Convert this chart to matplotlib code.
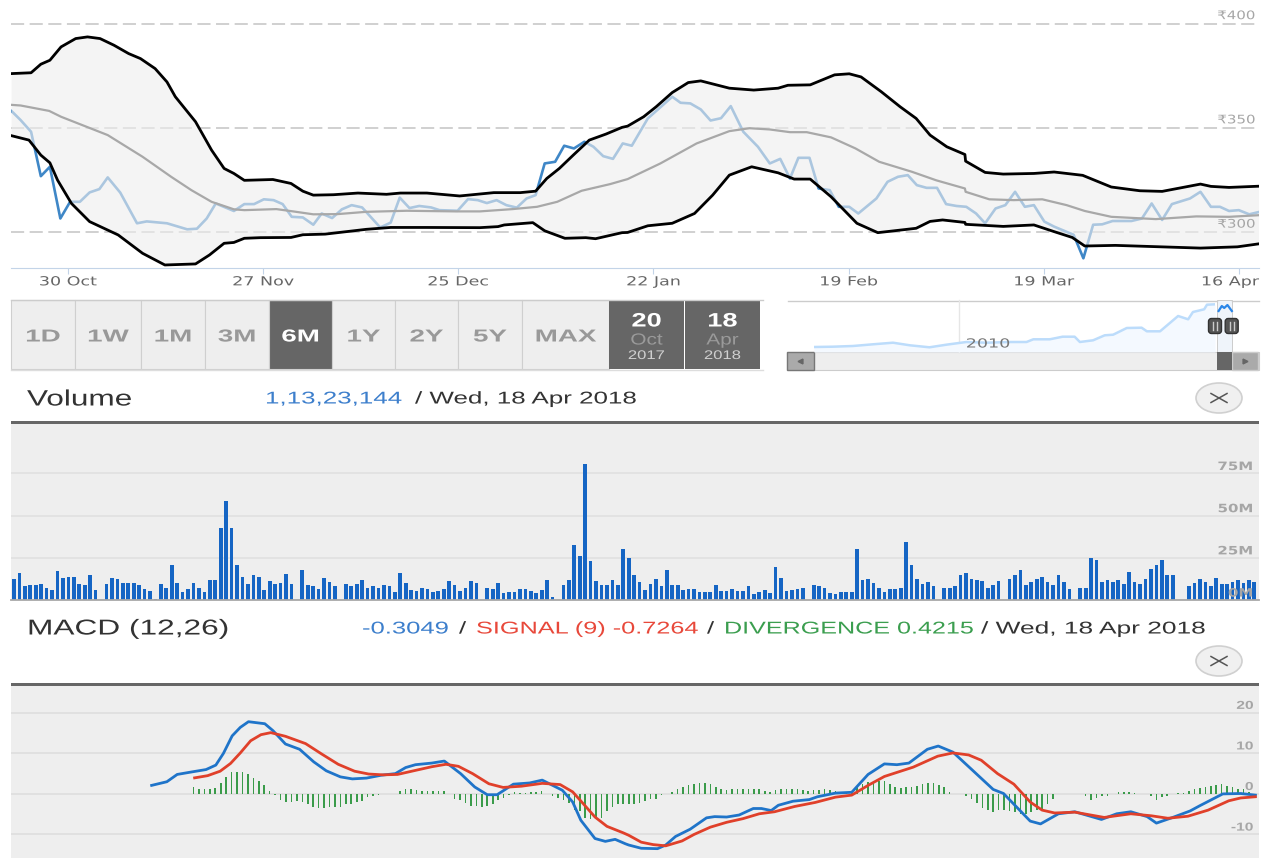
"""Stock chart screen: Bollinger bands, range buttons, volume and MACD panels."""
import matplotlib
matplotlib.use("Agg")
import matplotlib.pyplot as plt
import numpy as np
from matplotlib.patches import Ellipse, FancyBboxPatch, Rectangle
from matplotlib.patheffects import AbstractPathEffect
from matplotlib.transforms import Affine2D, blended_transform_factory

W, H = 1264, 858

# price panel, x in days since 30 Oct 2017
tick_days = [0, 28, 56, 84, 112, 140, 168]
tick_labels = ["30 Oct", "27 Nov", "25 Dec", "22 Jan", "19 Feb", "19 Mar", "16 Apr"]
price_ticks = [300, 350, 400]

upper_days = [-8.1, -5.3, -3.9, -2.6, -1.0, 1.1, 2.8, 4.6, 6.6, 8.7, 10.4, 12.5, 14.2, 15.4,
              18.3, 20.6, 22.4, 23.8, 25.3, 29.4, 32.0, 33.7, 35.2, 38.1, 41.6, 45.7, 47.7,
              51.5, 56.2, 61.1, 64.9, 67.1, 68.7, 70.5, 72.5, 74.8, 77.2, 79.5, 80.3, 82.6,
              84.4, 86.7, 89.0, 90.8, 94.9, 98.4, 101.9, 103.3, 106.5, 110.0, 112.1, 113.8,
              116.7, 119.4, 121.7, 123.7, 126.1, 128.7, 128.8, 131.6, 134.2, 138.6, 141.5,
              145.6, 149.7, 153.8, 157.0, 162.5, 164.0, 166.6, 171.0]
upper_vals = [376.0, 376.4, 380.5, 382.4, 388.8, 392.8, 393.6, 392.8, 389.6, 385.6, 383.2,
              378.4, 372.0, 364.9, 352.9, 339.3, 330.5, 328.1, 324.8, 325.2, 323.3, 319.6,
              317.7, 317.9, 318.7, 318.1, 318.7, 318.7, 317.3, 318.9, 318.9, 319.6, 325.7,
              330.5, 336.9, 344.1, 347.0, 350.2, 350.8, 355.3, 360.1, 366.9, 371.7, 372.5,
              369.0, 368.1, 369.0, 370.4, 370.6, 375.4, 375.9, 374.4, 367.3, 360.1, 354.5,
              346.5, 340.9, 337.2, 334.0, 328.6, 327.8, 328.1, 328.8, 327.2, 321.6, 319.8,
              319.5, 323.0, 321.9, 321.4, 322.0]
lower_days = [-8.1, -5.6, -3.9, -2.6, -1.5, 0.5, 3.1, 7.2, 10.7, 13.9, 18.3, 20.3, 22.4, 23.8,
              25.3, 27.6, 32.0, 33.7, 36.9, 42.8, 46.3, 51.5, 59.1, 61.7, 62.6, 66.7, 68.4,
              71.3, 74.3, 75.7, 79.5, 80.3, 83.2, 86.7, 89.9, 92.5, 94.9, 98.1, 101.9, 104.2,
              106.5, 109.5, 113.2, 116.2, 121.7, 123.7, 125.5, 128.7, 128.8, 134.2, 138.6,
              141.5, 144.1, 145.9, 150.3, 162.5, 167.8, 171.0]
lower_vals = [346.2, 344.1, 336.9, 333.2, 324.9, 313.7, 305.0, 298.6, 289.8, 284.2, 284.7,
              289.0, 294.6, 295.0, 297.0, 297.3, 297.4, 298.7, 299.0, 301.3, 302.2, 302.2,
              302.1, 302.6, 303.4, 304.5, 300.6, 297.0, 297.3, 296.8, 299.7, 299.8, 303.0,
              304.2, 308.9, 317.7, 327.3, 331.3, 328.4, 325.4, 325.4, 316.9, 304.2, 299.7,
              301.8, 305.1, 305.8, 304.6, 303.7, 302.7, 303.4, 300.2, 297.4, 293.3, 293.6,
              292.3, 292.9, 294.4]
middle_days = [-8.1, -6.8, -2.7, -1.0, 5.7, 10.7, 14.8, 17.7, 20.6, 23.8, 25.3, 29.9, 32.3,
               35.2, 38.7, 42.8, 48.6, 55.6, 59.1, 63.8, 67.3, 70.2, 73.7, 77.8, 80.3, 85.0,
               90.2, 94.9, 97.8, 100.7, 103.6, 106.0, 109.5, 113.0, 116.4, 121.1, 124.6,
               128.7, 128.8, 132.2, 135.7, 139.8, 143.3, 145.9, 149.7, 156.1, 161.9, 166.6,
               171.0]
middle_vals = [361.0, 360.7, 358.1, 355.3, 346.5, 336.1, 326.5, 320.1, 314.5, 310.9, 310.5,
               311.0, 309.9, 308.5, 308.6, 309.7, 310.2, 309.9, 309.9, 311.0, 312.1, 314.5,
               319.8, 323.0, 325.4, 332.9, 342.5, 348.4, 349.8, 349.2, 347.9, 347.9, 345.4,
               340.1, 333.7, 328.9, 324.8, 320.9, 319.3, 315.7, 315.3, 315.7, 312.9, 310.1,
               307.3, 306.2, 307.5, 307.3, 308.1]
price_days = [-8.1, -6.8, -5.3, -3.9, -2.6, -1.1, 0.3, 1.7, 3.1, 4.5, 5.7, 7.5, 9.9, 11.3,
              14.2, 17.1, 18.5, 19.9, 21.2, 23.8, 25.3, 26.7, 28.1, 29.5, 30.8, 32.1, 33.7,
              35.2, 36.4, 37.9, 39.3, 40.7, 42.2, 44.8, 46.3, 47.6, 49.0, 50.4, 52.1, 53.3,
              55.9, 57.4, 58.8, 60.1, 61.5, 62.9, 64.4, 65.8, 67.1, 68.4, 69.9, 71.2, 72.6,
              74.1, 75.4, 76.8, 78.2, 79.6, 80.9, 83.2, 86.7, 87.9, 89.3, 90.8, 92.2, 93.7,
              95.1, 96.9, 99.0, 100.7, 102.2, 103.6, 104.8, 106.4, 107.7, 109.3, 110.6, 112.1,
              113.4, 116.0, 117.6, 119.1, 120.5, 121.8, 123.2, 124.7, 126.0, 127.5, 128.9,
              130.3, 131.6, 133.1, 134.5, 135.9, 137.3, 138.6, 140.1, 141.5, 144.3, 145.7,
              147.1, 148.4, 149.9, 152.6, 154.1, 155.5, 157.0, 158.4, 161.0, 162.5, 164.0,
              165.3, 166.6, 168.0, 169.5, 171.0]
price_vals = [358.0, 353.7, 348.1, 326.8, 331.3, 306.5, 314.5, 314.5, 319.0, 320.6, 326.2,
              318.9, 304.2, 305.1, 304.2, 301.3, 301.6, 306.5, 313.7, 310.1, 313.4, 313.4,
              315.7, 315.3, 313.4, 307.3, 307.0, 303.5, 308.9, 306.7, 310.9, 312.9, 311.8,
              302.2, 304.5, 316.5, 311.5, 312.5, 311.8, 310.5, 310.2, 315.8, 315.3, 313.9,
              315.3, 312.9, 311.7, 316.1, 317.7, 332.9, 333.7, 341.4, 340.1, 343.3, 340.9,
              336.4, 335.1, 342.5, 341.4, 354.5, 364.9, 362.0, 361.7, 358.8, 353.5, 354.6,
              360.4, 348.1, 340.9, 332.9, 335.1, 325.7, 335.6, 335.6, 320.9, 320.1, 312.1,
              312.1, 308.9, 316.1, 324.1, 326.5, 327.3, 322.5, 321.2, 321.2, 313.4, 312.5,
              312.1, 308.9, 304.2, 311.3, 312.9, 319.3, 312.1, 312.9, 305.0, 302.6, 298.7,
              287.4, 303.5, 303.7, 305.3, 305.3, 306.5, 313.7, 305.8, 313.4, 316.1, 319.3,
              312.1, 312.1, 310.1, 310.5, 308.5, 309.7]

# range buttons
range_labels = ["1D", "1W", "1M", "3M", "6M", "1Y", "2Y", "5Y", "MAX"]
range_edges = [11, 75, 141, 205, 269, 332, 395, 458, 522, 609]
active_range = "6M"

# navigator, x as a fraction of the full history, y in pixels of the small plot
nav_x = [0, .047, .097, .147, .197, .239, .288, .33, .38, .43, .488, .53, .547, .588, .62, .65,
         .663, .696, .725, .746, .78, .817, .83, .863, .908, .933, .945, .973, .98, 1]
nav_y = [5, 5.3, 6, 7.7, 9.3, 6.7, 4.7, 7.3, 10, 9.3, 10, 10, 12.7, 12.7, 15.3, 15.3, 10, 11.7,
         16.7, 17.3, 24, 24.3, 20.7, 20.7, 36, 32.7, 40, 42.7, 47.3, 47.7]
nav_sel_x = [1.009, 1.017, 1.023, 1.031, 1.042]
nav_sel_y = [41, 46, 44, 47, 41]

# volume in millions per session, 0 where the feed has no bar
volume = [12.6, 15.7, 8.1, 8.7, 8.7, 9.3, 7.3, 5.9, 17.1, 13.2, 13.8, 13.8, 9.3, 8.7, 14.6, 6.1,
          0, 9.3, 13.2, 12.6, 10, 10, 10, 8.7, 6.7, 5.3, 0.8, 9.3, 7.3, 20.5, 10, 4.7, 6.7, 10,
          7.3, 4.7, 11.8, 11.8, 42.5, 58.7, 42.5, 21, 13.8, 9.3, 14.6, 13.8, 6.1, 11.2, 9.3, 10,
          15.2, 9.3, 0, 17.7, 8.7, 8.1, 6.7, 13.2, 10.6, 8.1, 0, 9.3, 8.1, 9.3, 11.8, 7.3, 8.1,
          7.3, 8.7, 8.1, 4.7, 15.7, 10, 6.1, 5.3,
          7.3, 6.7, 4.7, 5.3, 6.7, 11.2, 8.7, 5.3, 7.3, 11.2, 10, 0, 7.3, 6.7, 10, 4.1, 4.7, 4.7,
          6.7, 6.7, 5.3, 4.1, 6.1, 11.8, 1.6, 0, 8.7, 11.8, 32.7, 26.2, 80.7, 23, 11.2, 8.7, 8.7,
          11.8, 8.7, 30.1, 24.8, 14.6, 10.6, 6.1, 9.3, 12.6, 8.1, 17.7, 8.7, 8.7, 6.1, 6.7, 6.7,
          4.7, 4.7, 4.7, 8.7, 5.3, 5.3, 6.7, 5.3, 5.3, 8.1, 3.3, 4.7, 6.1, 4.1, 19.7, 13.2, 5.3,
          6.1, 6.7, 7.3, 0, 8.7, 8.1, 7.3, 4.1, 3.3,
          4.7, 4.7, 4.7, 30.1, 11.8, 12.6, 10, 7.3, 4.7, 6.7, 6.7, 7.3, 34.6, 21, 12.6, 9.3, 10.6,
          8.1, 0, 7.3, 7.3, 8.1, 14.6, 15.7, 12.6, 11.8, 11.2, 7.3, 8.7, 11.2, 0, 12.6, 14.6,
          17.7, 8.7, 10.6, 12.6, 13.8, 10.6, 8.7, 14.6, 10.6, 6.7, 0, 7.3, 7.3, 24.8, 23.6, 10.6,
          11.8, 10.6, 11.8, 9.3, 16.5, 10.6, 9.3, 12.6, 18.5, 21, 23.6, 14.6, 14.6, 0, 0, 8.1,
          10, 12.6, 10.6, 8.1, 13.2, 9.3, 9.3, 10.6, 11.8, 10, 11.8, 10.6]
volume_ticks = [0, 25, 50, 75]

# MACD, x in the same session slots as the volume bars
macd_slots = [25.3, 28.1, 30.0, 32.6, 35.3, 37.1, 38.5, 40.1, 41.6, 43.1, 46.1, 47.6, 49.9, 52.5,
              55.1, 57.4, 60.0, 62.2, 64.8, 67.5, 70.1, 72.0, 73.8, 76.8, 79.1, 82.1, 84.7, 87.0,
              88.8, 91.8, 94.8, 97.1, 100.8, 102.7, 104.2, 106.8, 108.7, 110.5, 112.4, 113.0,
              115.3, 118.3, 119.8, 121.6, 124.3, 127.3, 128.8, 131.0, 133.3, 135.9, 137.4, 139.2,
              140.5, 143.2, 146.2, 147.7, 151.0, 154.0, 157.0, 160.0, 162.3, 164.5, 167.9, 169.9,
              172.6, 175.5, 180.0, 181.9, 186.8, 188.7, 192.0, 195.0, 199.9, 202.7, 205.3, 208.3,
              210.0, 212.8, 216.2, 218.0, 222.2, 225.5, 228.2]
macd_vals = [2.1, 3.0, 4.8, 5.4, 6.0, 7.1, 10.0, 14.3, 16.4, 17.8, 17.3, 15.6, 12.3, 11.0, 7.9,
             5.7, 4.2, 3.7, 3.9, 4.6, 5.0, 6.5, 7.2, 7.6, 8.1, 5.0, 1.7, -0.2, -0.2, 2.4, 2.7,
             3.4, 0.9, -2.0, -6.5, -11.0, -11.7, -11.2, -12.3, -12.6, -13.4, -13.5, -12.6, -10.5,
             -8.7, -5.9, -5.6, -5.7, -5.2, -3.6, -3.6, -4.1, -2.8, -1.8, -1.4, -0.7, 0.2, 0.4,
             4.8, 7.4, 7.2, 7.6, 11.0, 11.8, 10.3, 6.7, 1.1, 0.1, -6.7, -7.4, -4.9, -4.4, -6.3,
             -4.9, -4.4, -5.6, -7.2, -5.9, -4.2, -2.9, 0.0, 0.1, -0.3]
signal_slots = [33.2, 35.6, 37.9, 39.8, 41.6, 43.5, 45.4, 47.2, 49.9, 53.6, 56.6, 59.6, 62.6, 65.2,
                67.8, 70.5, 73.8, 76.8, 79.4, 81.7, 84.3, 87.3, 89.9, 93.3, 97.1, 100.4, 102.7,
                104.5, 106.8, 109.0, 112.0, 113.0, 115.3, 117.5, 119.8, 122.8, 125.0, 128.0,
                131.0, 134.0, 137.0, 139.8, 143.5, 147.3, 151.0, 154.0, 157.0, 160.0, 165.3,
                169.8, 172.6, 175.5, 177.8, 180.8, 183.8, 186.8, 189.0, 191.3, 195.0, 200.4,
                205.3, 209.1, 212.1, 215.8, 219.5, 223.3, 225.5, 228.2]
signal_vals = [3.95, 4.5, 5.6, 7.5, 10.1, 13.1, 14.6, 15.1, 14.2, 12.4, 9.8, 7.3, 5.6, 4.9, 4.7,
               4.8, 5.8, 6.7, 7.3, 6.8, 5.0, 2.5, 1.6, 1.9, 2.6, 2.3, 0.5, -2.2, -5.7, -8.0, -9.6,
               -10.2, -11.9, -12.5, -12.8, -11.6, -10.0, -8.2, -7.0, -6.1, -4.9, -4.4, -3.1, -2.1,
               -0.8, -0.3, 2.1, 4.3, 6.6, 9.3, 10.1, 9.6, 8.3, 5.0, 2.4, -2.0, -4.0, -4.7, -4.5,
               -5.8, -4.9, -5.4, -6.0, -5.5, -4.0, -1.7, -1.0, -0.7]
divergence_first_slot = 33
divergence = [1.6, 1.3, 1.1, 1.1, 1.4, 2.7, 4.2, 5.4, 5.5, 5.5, 4.9, 3.8, 3.1, 2.1, 0.8, -0.2, -1.5,
              -2.1, -2.1, -1.7, -2.0, -2.6, -3.2, -3.4, -3.4, -3.3, -3.2, -3.2, -2.5, -2.5, -2.0,
              -1.7, -0.8, -0.5, -0.3, 0, -0.1, 0.1, 0.6, 1.1, 1.1, 0.9, 0.8, 0.8, 0.8, 0.8, 0.8, 0,
              -1.2, -1.4, -2.2, -3.0, -3.1, -3.2, -3.1, -2.6, -1.6, -1.0, -0.2, 0.5, 0.2, 0.2, 0.4,
              0.5, 0.8, 0, -0.5, -0.9, -1.6, -2.2, -3.9, -4.3, -6.0, -6.1, -5.8, -6.0, -4.3, -3.2,
              -2.6, -2.6, -2.6,
              -2.6, -2.2, -1.7, -1.3, -1.2, -0.3, 0, 0.5, 1.2, 1.6, 2.2, 2.5, 2.7, 2.7, 2.4, 1.7,
              1.3, 0.9, 1.1, 1.1, 1.1, 1.3, 1.3, 1.1, 0.7, 0.4, 1, 1.1, 1.3, 1.2, 1.1, 0.9, 0.8, 1,
              1, 1.1, 0.9, 0.7, 0.4, 0.5, 0.7, 1.7, 2.4, 3, 3.3, 3.2, 3.1, 2.5, 1.6, 1.4, 1.6, 1.7,
              2, 2.5, 2.8, 2.6, 2.3, 1.6, 0.5, 0, 0, -0.4, -1.3, -2.2, -3.4, -4, -4.4, -3.9, -4,
              -4.3, -4.4, -4.9, -5, -4.5, -4, -3.7, -2.6, -1.2, 0, 0.1, 0.1, 0.1, 0, -0.4, -1.4,
              -0.9, -0.6, -0.4, 0, 0.5, 0.5, 0.5, 0.2, 0, 0, -0.4, -1.5, -0.7, -0.4, -0.1, 0.2, 0.3,
              0.7, 1.3, 1.5, 1.6, 2, 2.1, 2.5, 2, 1.7, 1.2, 1.2, 0.5, 0.1]
macd_ticks = [-10, 0, 10, 20]

SLOT_PX = 5.44
GRAY_TEXT = "#a6a6a6"
BLUE_TEXT = "#3d7fcc"
RED_TEXT = "#e8483a"
GREEN_TEXT = "#3b9e4f"
DARK_TEXT = "#333333"


class Wide(AbstractPathEffect):
    """The reference is stretched sideways, so stretch the glyphs about an anchor."""

    def __init__(self, anchor, sx, dx=0):
        super().__init__()
        self.anchor, self.sx, self.dx = anchor, sx, dx

    def draw_path(self, renderer, gc, tpath, affine, rgbFace=None):
        stretch = (Affine2D().translate(-self.anchor, 0).scale(self.sx, 1)
                   .translate(self.anchor + self.dx, 0))
        renderer.draw_path(gc, tpath, affine + stretch, rgbFace)


def rect(x0, y0, x1, y1):
    return [x0 / W, 1 - y1 / H, (x1 - x0) / W, (y1 - y0) / H]


fig = plt.figure(figsize=(W / 100, H / 100), dpi=100, facecolor="white")

# price panel
ax = fig.add_axes(rect(11, 0, 1259, 268))
ax.set_xlim(-8.18, 170.9)
ax.set_ylim(282.75, 411.3)
for s in ("top", "left", "right"):
    ax.spines[s].set_visible(False)
ax.spines["bottom"].set_color("#c3d4e8")
ax.set_yticks(price_ticks)
ax.tick_params(axis="y", length=0, labelleft=False)
ax.grid(axis="y", color="#c4c4c4", lw=1.1, dashes=(8.6, 3.6), zorder=1)
ax.set_axisbelow(True)
ax.plot(price_days, price_vals, color="#3f87c7", lw=1.9, zorder=2)
ax.fill(upper_days + lower_days[::-1], upper_vals + lower_vals[::-1],
        color="#eeeeee", alpha=0.62, lw=0, zorder=3)
ax.plot(middle_days, middle_vals, color="#a8a8a8", lw=1.6, zorder=4)
ax.plot(upper_days, upper_vals, color="black", lw=2.0, zorder=5)
ax.plot(lower_days, lower_vals, color="black", lw=2.0, zorder=5)
ax.set_xticks(tick_days)
ax.set_xticklabels(tick_labels, fontsize=9, color="#666666")
ax.tick_params(axis="x", length=4.3, color="#c3d4e8", pad=1)
for tick, lab in zip(tick_days, ax.get_xticklabels()):
    # the last label is pushed left so it stays inside the plot
    shift = -9 if tick == tick_days[-1] else 0
    lab.set_path_effects([Wide(ax.transData.transform((tick, 300))[0], 1.4, shift)])
tr = blended_transform_factory(ax.transAxes, ax.transData)
for v in price_ticks:
    ax.text(0.9968, v + 3.8, f"₹{v}", transform=tr, ha="right", va="center", fontsize=8.5,
            color=GRAY_TEXT, path_effects=[Wide(1255, 1.27)], zorder=6)

# volume panel
ax = fig.add_axes(rect(11, 424, 1259, 600), facecolor="#eeeeee")
ax.set_xlim(-3 / SLOT_PX, 1245 / SLOT_PX)
ax.set_ylim(0, 176 / 1.688)
for s in ("top", "left", "right"):
    ax.spines[s].set_visible(False)
ax.spines["bottom"].set_color("#a8a8a8")
ax.spines["bottom"].set_linewidth(1.3)
ax.set_xticks([])
ax.set_yticks(volume_ticks)
ax.tick_params(axis="y", length=0, labelleft=False)
ax.grid(axis="y", color="#dfdfdf", lw=1.1)
ax.set_axisbelow(True)
ax.bar(np.arange(len(volume)), volume, width=0.68, color="#1565c4", lw=0)
tr = blended_transform_factory(ax.transAxes, ax.transData)
for v in volume_ticks:
    ax.text(0.9952, v + 4.1, f"{v}M", transform=tr, ha="right", va="center", fontsize=8.3,
            color=GRAY_TEXT, fontweight="bold", path_effects=[Wide(1253, 1.3)], zorder=6)

# MACD panel
ax = fig.add_axes(rect(11, 686, 1259, 858), facecolor="#eeeeee")
ax.set_xlim(-3 / SLOT_PX, 1245 / SLOT_PX)
ax.set_ylim(-15.8, 26.6)
for s in ax.spines.values():
    s.set_visible(False)
ax.set_xticks([])
ax.set_yticks(macd_ticks)
ax.tick_params(axis="y", length=0, labelleft=False)
ax.grid(axis="y", color="#dcdcdc", lw=1.1)
ax.set_axisbelow(True)
ax.bar(divergence_first_slot + np.arange(len(divergence)), divergence, width=0.3,
       color="#3a9b4a", lw=0)
ax.plot(macd_slots, macd_vals, color="#1f74c9", lw=2.0)
ax.plot(signal_slots, signal_vals, color="#e0402a", lw=2.0)
tr = blended_transform_factory(ax.transAxes, ax.transData)
for v in macd_ticks:
    ax.text(0.9955, v + 1.7, str(v), transform=tr, ha="right", va="center", fontsize=8.3,
            color=GRAY_TEXT, fontweight="bold", family="Liberation Sans",
            path_effects=[Wide(1252.5, 1.35)], zorder=6)

# page furniture, drawn in pixel coordinates over everything
ui = fig.add_axes([0, 0, 1, 1], zorder=10)
ui.set_xlim(0, W)
ui.set_ylim(H, 0)
ui.axis("off")


def label(x, y, s, color=DARK_TEXT, size=12.3, sx=1.5, ha="left", weight="normal",
          family="Liberation Sans"):
    ui.text(x, y + 2, s, color=color, fontsize=size, ha=ha, va="center", fontweight=weight,
            family=family, path_effects=[Wide(x, sx)])


def box(x0, y0, x1, y1, face, edge="none", lw=1.0):
    ui.add_patch(Rectangle((x0, y0), x1 - x0, y1 - y0, facecolor=face, edgecolor=edge, lw=lw))


# range buttons
ui.plot([11, 763], [299.5, 299.5], color="#cccccc", lw=1)
ui.plot([11, 763], [370, 370], color="#dddddd", lw=1)
for name, x0, x1 in zip(range_labels, range_edges[:-1], range_edges[1:]):
    on = name == active_range
    box(x0, 300, x1, 369, "#666666" if on else "#eeeeee", "#cfcfcf", 0.8)
    label((x0 + x1) / 2, 335, name, "white" if on else "#999999", 12.5, 1.6, "center", "bold")
for x0, x1, day, month, year in [(609, 684, "20", "Oct", "2017"), (685, 760, "18", "Apr", "2018")]:
    box(x0, 300, x1, 369, "#666666")
    mid = (x0 + x1) / 2
    label(mid, 320, day, "white", 14, 1.4, "center", "bold")
    label(mid, 338, month, "#9a9a9a", 11.5, 1.3, "center")
    label(mid, 354, year, "#d0d0d0", 9, 1.33, "center")

# navigator frame and scrollbar
ui.plot([788, 1217], [300.5, 300.5], color="#cccccc", lw=1)
ui.plot([1232, 1259], [300.5, 300.5], color="#cccccc", lw=1)
box(1216.7, 300, 1231.7, 352, "#eff4fa", "#cccccc", 0.7)
ui.plot([959, 959], [300, 352], color="#e6e6e6", lw=1)

nav = fig.add_axes(rect(814, 300, 1215, 352), zorder=11)
nav.set_xlim(0, 1)
nav.set_ylim(0, 52)
nav.axis("off")
nav.fill_between(nav_x, nav_y, color="#f4f9ff", lw=0)
nav.plot(nav_x, nav_y, color="#bcdcfb", lw=1.8)
nav.plot(nav_sel_x, nav_sel_y, color="#2a86e8", lw=1.6, clip_on=False)

ui2 = fig.add_axes([0, 0, 1, 1], zorder=12, sharex=ui, sharey=ui)
ui2.axis("off")
ui2.text(988, 344, "2010", color="#777777", fontsize=9, ha="center", va="center",
         path_effects=[Wide(988, 1.4)])
for xc in (1215, 1231.7):
    ui2.add_patch(FancyBboxPatch((xc - 5, 320), 10, 12, boxstyle="round,pad=1.5,rounding_size=3",
                                 facecolor="#555555", edgecolor="#333333", lw=1))
    ui2.plot([xc - 1.8, xc - 1.8], [322, 330], color="#cccccc", lw=1)
    ui2.plot([xc + 1.8, xc + 1.8], [322, 330], color="#cccccc", lw=1)
box(787, 352, 1259, 370, "#eeeeee", "#cccccc", 0.8)
box(787, 352, 814, 370, "#aaaaaa", "#777777", 1)
box(1232, 352, 1258, 370, "#aaaaaa", "#cccccc", 1)
box(1217, 352, 1232, 370, "#666666")
ui.plot([800], [361], marker="<", ms=3.5, color="#666666")
ui.plot([1245], [361], marker=">", ms=3.5, color="#666666")

# section headers
box(11, 421, 1259, 424, "#666666")
label(27, 398, "Volume", size=16, sx=1.42)
label(265, 397, "1,13,23,144", BLUE_TEXT, sx=1.52)
label(415, 397, "/ Wed, 18 Apr 2018", sx=1.52)
box(11, 683, 1259, 686, "#666666")
label(27, 627, "MACD (12,26)", size=15.5, sx=1.47)
label(362, 627, "-0.3049", BLUE_TEXT)
label(459, 627, "/", DARK_TEXT)
label(476, 627, "SIGNAL (9) -0.7264", RED_TEXT, sx=1.48)
label(707, 627, "/", DARK_TEXT)
label(724, 627, "DIVERGENCE 0.4215", GREEN_TEXT, sx=1.47)
label(981, 627, "/ Wed, 18 Apr 2018", sx=1.54)

# close buttons
for cy in (398, 661):
    ui.add_patch(Ellipse((1219, cy), 46, 30, facecolor="#f0f0f0", edgecolor="#d0d0d0", lw=1.2))
    ui.plot([1211, 1227], [cy - 4.5, cy + 4.5], color="#555555", lw=1.1)
    ui.plot([1211, 1227], [cy + 4.5, cy - 4.5], color="#555555", lw=1.1)

fig.savefig("out.png", dpi=100)
